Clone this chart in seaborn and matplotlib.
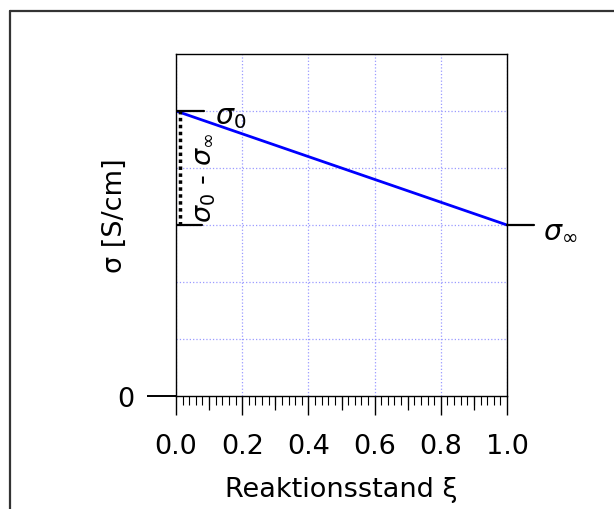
import numpy as np
import matplotlib
matplotlib.use("Agg")
import matplotlib.pyplot as plt
import matplotlib.transforms as mtransforms
from matplotlib.lines import Line2D
from matplotlib.ticker import FixedLocator
import seaborn as sns

# Data
xi = [0.0, 1.0]
sigma = [5.0, 3.0]
sigma0 = 5.0
sigma_inf = 3.0
x_ticks = [0.0, 0.2, 0.4, 0.6, 0.8, 1.0]
x_tick_labels = ["0.0", "0.2", "0.4", "0.6", "0.8", "1.0"]
x_mid_ticks = [0.1, 0.3, 0.5, 0.7, 0.9]
x_minor_ticks = [round(0.02 * i, 2) for i in range(51)]
y_ticks = [0.0]
y_tick_labels = ["0"]
y_grid = [1.0, 2.0, 3.0, 4.0, 5.0]

sns.set_style("white")
plt.rcParams["font.family"] = ["DejaVu Sans"]
plt.rcParams["mathtext.fontset"] = "dejavusans"
plt.rcParams["text.color"] = "black"
plt.rcParams["axes.labelcolor"] = "black"
plt.rcParams["xtick.color"] = "black"
plt.rcParams["ytick.color"] = "black"

FS = 19.5
fig = plt.figure(figsize=(6.14, 5.10), dpi=100)
ax = fig.add_axes([176 / 614, 1 - 397 / 510, 331 / 614, 342 / 510])

sns.lineplot(x=xi, y=sigma, color="blue", lw=2.0, ax=ax)

ax.set_xlim(0, 1)
ax.set_ylim(0, 6)

for sp in ax.spines.values():
    sp.set_visible(True)
    sp.set_color("black")
    sp.set_linewidth(1.0)

# x ticks
ax.xaxis.set_major_locator(FixedLocator(x_ticks))
ax.set_xticklabels(x_tick_labels)
ax.xaxis.set_minor_locator(FixedLocator(x_minor_ticks))
ax.tick_params(axis="x", which="major", direction="out", length=13.7, width=1.0,
               pad=13, labelsize=FS, bottom=True)
ax.tick_params(axis="x", which="minor", direction="out", length=6.2, width=0.8,
               bottom=True)
sec = ax.secondary_xaxis("bottom")
sec.xaxis.set_major_locator(FixedLocator(x_mid_ticks))
sec.tick_params(axis="x", direction="out", length=10, width=0.9, labelbottom=False,
                color="black")
sec.spines["bottom"].set_visible(False)

# y ticks
ax.yaxis.set_major_locator(FixedLocator(y_ticks))
ax.set_yticklabels(y_tick_labels)
ax.yaxis.set_minor_locator(FixedLocator(y_grid))
ax.tick_params(axis="y", which="major", direction="out", length=21, width=1.4,
               pad=9, labelsize=FS, left=True)
ax.tick_params(axis="y", which="minor", length=0)

# grid
grid_kw = dict(color="#9a9aff", linestyle=":", linewidth=0.9)
ax.grid(False)
ax.xaxis.grid(True, which="major", **grid_kw)
ax.yaxis.grid(True, which="minor", **grid_kw)
ax.set_axisbelow(True)

ax.set_xlabel("Reaktionsstand ξ", fontsize=FS, labelpad=12)
ax.set_ylabel("σ [S/cm]", fontsize=FS)
ax.yaxis.set_label_coords(-0.145, 0.531)

# annotations
tick_kw = dict(color="black", lw=1.6)
ax.axhline(sigma0, xmin=0, xmax=28 / 331, **tick_kw)
ax.axhline(sigma_inf, xmin=0, xmax=26 / 331, **tick_kw)
ax.axhline(sigma_inf, xmin=1, xmax=1 + 27 / 331, clip_on=False, **tick_kw)

shift = mtransforms.offset_copy(ax.transData, fig=fig, x=4, y=0, units="dots")
ax.vlines(xi[0], sigma_inf, sigma0, colors="black", linestyles=(0, (1, 1)),
          lw=2.5, transform=shift)

ax.annotate(r"$\sigma_0$", xy=(xi[0], sigma0), xytext=(28, -3.5),
            textcoords="offset points", fontsize=20.5, ha="left", va="center")
ax.annotate(r"$\sigma_\infty$", xy=(xi[-1], sigma_inf), xytext=(26, -3),
            textcoords="offset points", fontsize=20.5, ha="left", va="center",
            annotation_clip=False)
ax.annotate(r"$\sigma_0$ - $\sigma_\infty$", xy=(xi[0], (sigma0 + sigma_inf) / 2),
            xytext=(21, -6.5), textcoords="offset points", fontsize=FS,
            rotation=90, ha="center", va="center")

# outer frame (cropped)
fig.add_artist(Line2D([10 / 614, 1], [1 - 12 / 510, 1 - 12 / 510],
                      color="#333333", lw=1.6))
fig.add_artist(Line2D([10 / 614, 10 / 614], [0, 1 - 12 / 510],
                      color="#333333", lw=1.6))

fig.savefig("out.png", dpi=100)
